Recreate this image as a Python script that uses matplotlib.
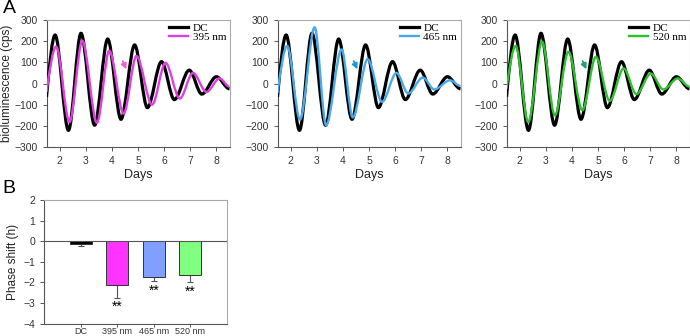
import matplotlib.pyplot as plt
from matplotlib.path import Path
from matplotlib.patches import PathPatch
from matplotlib.lines import Line2D

# --- panel A: peak / trough times (days) and values (cps)
dc_t = [1.50, 1.83, 2.34, 2.82, 3.34, 3.84, 4.35, 4.87, 5.36, 5.90, 6.39, 6.96, 7.44, 8.00, 8.50]
dc_v = [-63, 229, -221, 237, -197, 210, -169, 182, -114, 103, -76, 63, -50, 32, -25]

nm395_t = [1.50, 1.87, 2.38, 2.87, 3.43, 3.90, 4.45, 4.94, 5.54, 6.05, 6.60, 7.10, 7.62, 8.12, 8.50]
nm395_v = [-40, 174, -182, 202, -186, 155, -142, 130, -100, 98, -71, 50, -40, 24, -15]

nm465_t = [1.50, 1.87, 2.36, 2.92, 3.36, 3.95, 4.38, 4.95, 5.50, 6.05, 6.50, 7.06, 7.50, 8.10, 8.50]
nm465_v = [-45, 177, -170, 265, -197, 161, -160, 115, -87, 50, -47, 28, -28, 15, -12]

nm520_t = [1.50, 1.85, 2.33, 2.86, 3.35, 3.87, 4.40, 4.92, 5.45, 5.98, 6.47, 7.02, 7.50, 8.05, 8.50]
nm520_v = [-25, 177, -182, 197, -150, 150, -126, 126, -82, 71, -50, 47, -28, 24, -15]

treat_labels = ['395 nm', '465 nm', '520 nm']
treat_t = [nm395_t, nm465_t, nm520_t]
treat_v = [nm395_v, nm465_v, nm520_v]
line_colors = ['#e03fe0', '#4aa8ec', '#2fc02f']
arrow_colors = ['#f060c8', '#1a98dc', '#1fa07a']

# --- panel B: phase shift (h)
b_labels = ['DC', '395 nm', '465 nm', '520 nm']
b_means = [-0.13, -2.15, -1.72, -1.62]
b_err = [0.12, 0.60, 0.23, 0.38]
b_stars = ['', '**', '**', '**']
b_colors = ['#000000', '#ff33ff', '#809fff', '#80ff80']


def wave(t, v):
    # smooth line through the extrema (flat tangent at every peak/trough)
    verts = [(t[0], v[0])]
    codes = [Path.MOVETO]
    for i in range(1, len(t)):
        x0, y0, x1, y1 = t[i - 1], v[i - 1], t[i], v[i]
        dx = x1 - x0
        c1y = y0 + (y1 - y0) * 0.5 if i == 1 else y0
        verts += [(x0 + dx / 3, c1y), (x1 - dx / 3, y1), (x1, y1)]
        codes += [Path.CURVE4] * 3
    return Path(verts, codes)


def style_axes(ax):
    for s in ['left', 'bottom']:
        ax.spines[s].set_color('#555555')
    for s in ['top', 'right']:
        ax.spines[s].set_color('#aaaaaa')
    for s in ax.spines.values():
        s.set_linewidth(0.8)
    ax.tick_params(colors='#555555', labelcolor='#333333', labelsize=7.5,
                   length=3, width=0.7, direction='out')


plt.rcParams['font.family'] = ['Liberation Sans', 'DejaVu Sans']
fig = plt.figure(figsize=(6.9, 3.36), dpi=100)

W, H = 690.0, 336.0
lefts = [46.5, 277.5, 506.5]
for k in range(3):
    ax = fig.add_axes([lefts[k] / W, 1 - 147 / H, 183 / W, 127 / H])
    ax.add_patch(PathPatch(wave(dc_t, dc_v), fill=False, ec='black', lw=2.3, zorder=3))
    ax.add_patch(PathPatch(wave(treat_t[k], treat_v[k]), fill=False,
                           ec=line_colors[k], lw=1.7, zorder=4))
    ax.set_xlim(1.5, 8.5)
    ax.set_ylim(-300, 300)
    ax.set_xticks(range(2, 9))
    ax.set_yticks(range(-300, 301, 100))
    ax.set_xlabel('Days', fontsize=9, labelpad=2, color='#222222')
    if k == 0:
        ax.set_ylabel('bioluminescence (cps)', fontsize=8.5, labelpad=1, color='#222222')
    style_axes(ax)
    ax.annotate('', xy=(4.6, 55), xytext=(4.37, 118),
                arrowprops=dict(arrowstyle='-|>', color=arrow_colors[k], lw=1.3,
                                mutation_scale=8), zorder=5)
    handles = [Line2D([], [], color='black', lw=2.3),
               Line2D([], [], color=line_colors[k], lw=1.7)]
    ax.legend(handles, ['DC', treat_labels[k]], loc='upper right', frameon=False,
              prop={'family': 'Liberation Serif', 'size': 8}, handlelength=1.7,
              handletextpad=0.4, labelspacing=-0.05, borderaxespad=0.1,
              borderpad=0.2)

# --- panel B
axb = fig.add_axes([44.3 / W, 1 - 323.5 / H, 182.5 / W, 123.5 / H])
xs = range(len(b_labels))
axb.bar(xs, b_means, width=0.6, color=b_colors, edgecolor='#333333', linewidth=0.7, zorder=3)
axb.errorbar(xs, b_means, yerr=[b_err, [0] * 4], fmt='none', ecolor='#555555',
             elinewidth=0.8, capsize=2, capthick=0.8, zorder=2)
for x, m, e, s in zip(xs, b_means, b_err, b_stars):
    if s:
        axb.text(x, m - e - 0.12, s, ha='center', va='top', fontsize=10, color='black')
axb.axhline(0, color='#555555', lw=0.8, zorder=4)
axb.set_xlim(-1, 4)
axb.set_ylim(-4, 2)
axb.set_yticks(range(-4, 3))
axb.set_xticks(list(xs))
axb.set_xticklabels(b_labels)
axb.set_ylabel('Phase shift (h)', fontsize=8.5, labelpad=3, color='#222222')
style_axes(axb)
axb.tick_params(axis='x', labelsize=6.5, pad=0.5, length=2)

fig.text(0.004, 1.0, 'A', fontsize=14, va='top', ha='left')
fig.text(0.004, 1 - 180 / H, 'B', fontsize=14, va='top', ha='left')

fig.savefig('out.png', dpi=100)
